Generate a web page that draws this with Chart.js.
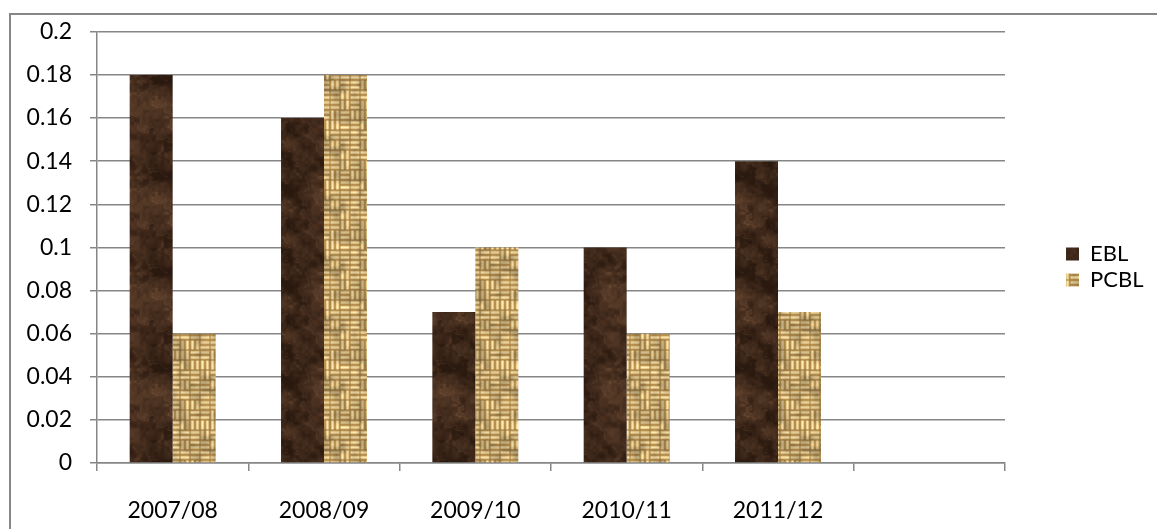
<!DOCTYPE html>
<html><head><meta charset="utf-8">
<script src="https://cdn.jsdelivr.net/npm/chart.js@4.4.1/dist/chart.umd.min.js"></script>
<style>html,body{margin:0;padding:0;background:#fff;}#wrap{width:1157px;height:529px;position:relative;}</style>
</head><body><div id="wrap"><canvas id="c"></canvas></div>
<script>
// ---- data ----
const categories = ['2007/08', '2008/09', '2009/10', '2010/11', '2011/12', ''];
const seriesNames = ['EBL', 'PCBL'];
const eblValues = [0.18, 0.16, 0.07, 0.10, 0.14, null];
const pcblValues = [0.06, 0.18, 0.10, 0.06, 0.07, null];
const yTickLabels = ['0', '0.02', '0.04', '0.06', '0.08', '0.1', '0.12', '0.14', '0.16', '0.18', '0.2'];

// ---- textures (deterministic) ----
function hash(x, y) { const s = Math.sin(x * 127.1 + y * 311.7) * 43758.5453; return s - Math.floor(s); }
function pnoise(x, y, P) {
  const xi = Math.floor(x), yi = Math.floor(y), xf = x - xi, yf = y - yi;
  const u = xf * xf * (3 - 2 * xf), v = yf * yf * (3 - 2 * yf);
  const m = k => ((k % P) + P) % P;
  const a = hash(m(xi), m(yi)), b = hash(m(xi + 1), m(yi)), c = hash(m(xi), m(yi + 1)), d = hash(m(xi + 1), m(yi + 1));
  return a + (b - a) * u + (c - a) * v + (a - b - c + d) * u * v;
}
function marblePattern(ctx) {
  const S = 96, off = document.createElement('canvas'); off.width = S; off.height = S;
  const o = off.getContext('2d'), img = o.createImageData(S, S);
  for (let y = 0; y < S; y++) for (let x = 0; x < S; x++) {
    const n = 0.5 * pnoise(x / 16, y / 16, 6) + 0.3 * pnoise(x / 8, y / 8, 12) + 0.2 * pnoise(x / 3, y / 3, 32);
    const vein = Math.pow(1 - Math.abs(Math.sin((x * 0.7 - y * 0.4 + n * 50) / 8)), 8);
    let t = (n - 0.25) * 1.1 + 0.25 * vein;
    t = Math.max(0, Math.min(1, t));
    const i = (y * S + x) * 4;
    img.data[i] = 42 + t * 80; img.data[i + 1] = 25 + t * 60; img.data[i + 2] = 15 + t * 44; img.data[i + 3] = 255;
  }
  o.putImageData(img, 0, 0);
  return ctx.createPattern(off, 'repeat');
}
function weavePattern(ctx) {
  const C = 10, N = 6, S = C * N;
  const raw = document.createElement('canvas'); raw.width = S; raw.height = S;
  const o = raw.getContext('2d');
  o.fillStyle = '#94713a'; o.fillRect(0, 0, S, S);
  for (let cy = 0; cy < N; cy++) for (let cx = 0; cx < N; cx++) {
    const horiz = hash(cx * 7 + 2, cy * 13 + 3) < 0.5;
    const x0 = cx * C, y0 = cy * C;
    for (let s = 0; s < 2; s++) {
      const k = 0.8 + 0.2 * hash(cx * 3 + s, cy * 5 + 1);
      const hi = `rgb(${Math.round(236 * k + 16)},${Math.round(214 * k + 14)},${Math.round(158 * k + 12)})`;
      let g;
      if (horiz) g = o.createLinearGradient(0, y0 + s * 5, 0, y0 + s * 5 + 5);
      else g = o.createLinearGradient(x0 + s * 5, 0, x0 + s * 5 + 5, 0);
      g.addColorStop(0, '#c09a58'); g.addColorStop(0.5, hi); g.addColorStop(1, '#b99250');
      o.fillStyle = g;
      if (horiz) o.fillRect(x0 + 0.5, y0 + s * 5 + 0.5, C - 1, 4);
      else o.fillRect(x0 + s * 5 + 0.5, y0 + 0.5, 4, C - 1);
    }
  }
  // soft darker mottling
  const img = o.getImageData(0, 0, S, S);
  for (let y = 0; y < S; y++) for (let x = 0; x < S; x++) {
    const n = pnoise(x / 6, y / 6, 10);
    const f = 0.82 + 0.3 * n;
    const i = (y * S + x) * 4;
    img.data[i] = Math.min(255, img.data[i] * f);
    img.data[i + 1] = Math.min(255, img.data[i + 1] * f);
    img.data[i + 2] = Math.min(255, img.data[i + 2] * f);
  }
  o.putImageData(img, 0, 0);
  const off = document.createElement('canvas'); off.width = S; off.height = S;
  const p = off.getContext('2d');
  p.filter = 'blur(0.7px)';
  for (let dx = -1; dx <= 1; dx++) for (let dy = -1; dy <= 1; dy++) p.drawImage(raw, dx * S, dy * S);
  p.filter = 'none';
  return ctx.createPattern(off, 'repeat');
}

const canvas = document.getElementById('c');
canvas.width = 1157; canvas.height = 529;
const ctx = canvas.getContext('2d');
const eblFill = marblePattern(ctx);
const pcblFill = weavePattern(ctx);

const FONT = "Lato, 'Liberation Sans', sans-serif";
const LEGEND_W = 95;

const frame = {
  id: 'frame',
  beforeDraw(chart) {
    const c = chart.ctx; c.save();
    c.fillStyle = '#fff'; c.fillRect(0, 0, chart.width, chart.height);
    c.strokeStyle = '#868686'; c.lineWidth = 2;
    c.beginPath(); c.moveTo(10, 529); c.lineTo(10, 14); c.lineTo(1157, 14); c.stroke();
    c.restore();
  }
};
const legendFit = {
  id: 'legendFit',
  beforeLayout(chart) {
    const lg = chart.legend;
    if (lg && !lg.__p) { const f = lg.fit; lg.fit = function () { f.call(this); this.width = LEGEND_W; }; lg.__p = true; }
  },
  afterLayout(chart) {
    const lg = chart.legend;
    if (lg) { lg.top -= 12; lg.bottom -= 12; }
  }
};

new Chart(ctx, {
  type: 'bar',
  data: {
    labels: categories,
    datasets: [
      { label: seriesNames[0], data: eblValues, backgroundColor: eblFill, borderWidth: 0 },
      { label: seriesNames[1], data: pcblValues, backgroundColor: pcblFill, borderWidth: 0 }
    ]
  },
  options: {
    responsive: false,
    animation: false,
    devicePixelRatio: 1,
    layout: { padding: { top: 29, bottom: 0, left: 0, right: 0 } },
    datasets: { bar: { categoryPercentage: 0.568, barPercentage: 1.0 } },
    plugins: {
      tooltip: { enabled: false },
      legend: {
        position: 'right',
        align: 'center',
        labels: { boxWidth: 13, boxHeight: 13, padding: 4, color: '#000', font: { family: FONT, size: 22 } }
      }
    },
    scales: {
      x: {
        offset: true,
        grid: { display: true, offset: true, drawOnChartArea: false, drawTicks: true, tickLength: 8, color: '#868686', lineWidth: 1.5 },
        border: { display: true, color: '#868686', width: 1.5 },
        ticks: { color: '#000', padding: 26, maxRotation: 0, autoSkip: false, font: { family: FONT, size: 23 } },
        afterFit(s) { s.height = 66; }
      },
      y: {
        min: 0, max: 0.2,
        grid: { color: '#868686', lineWidth: 1.5, tickLength: 7, drawTicks: true },
        border: { display: true, color: '#868686', width: 1.5 },
        ticks: { stepSize: 0.02, color: '#000', padding: 18, font: { family: FONT, size: 23 },
          callback: (v) => yTickLabels[Math.round(v / 0.02)] },
        afterFit(s) { s.width = 97; }
      },
      yr: {
        type: 'linear', position: 'right', display: true,
        grid: { display: false, drawTicks: false }, border: { display: false },
        ticks: { display: false },
        afterFit(s) { s.width = 1157 - LEGEND_W - 1005; }
      }
    }
  },
  plugins: [frame, legendFit]
});
</script></body></html>
